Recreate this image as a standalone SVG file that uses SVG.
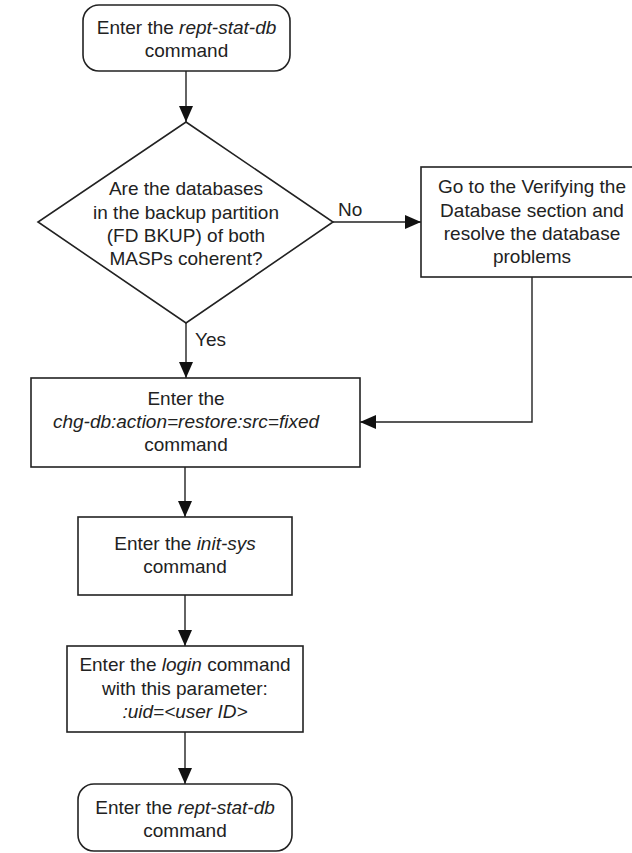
<svg xmlns="http://www.w3.org/2000/svg" width="632" height="853" viewBox="0 0 632 853">
  <defs>
    <style>
      .shape { fill: #ffffff; stroke: #222222; stroke-width: 1.6; }
      .link { fill: none; stroke: #222222; stroke-width: 1.4; marker-end: url(#arrow); }
      text { font-family: "Liberation Sans", Arial, sans-serif; font-size: 19px; fill: #222222; text-anchor: middle; }
      .it { font-style: italic; }
      .lbl { text-anchor: start; }
    </style>
    <marker id="arrow" markerUnits="userSpaceOnUse" markerWidth="16" markerHeight="14" refX="16" refY="7" orient="auto">
      <path d="M0,0 L16,7 L0,14 z" fill="#111111"/>
    </marker>
  </defs>

  <rect x="0" y="0" width="632" height="853" fill="#ffffff"/>

  <!-- connectors -->
  <g id="connectors">
    <line class="link" x1="186" y1="71" x2="186" y2="122"/>
    <line class="link" x1="333" y1="222" x2="421" y2="222"/>
    <line class="link" x1="186" y1="323" x2="186" y2="378"/>
    <polyline class="link" points="532,277 532,422 360,422"/>
    <line class="link" x1="185" y1="467" x2="185" y2="517"/>
    <line class="link" x1="185" y1="595" x2="185" y2="646"/>
    <line class="link" x1="185" y1="732" x2="185" y2="784"/>
    <text class="lbl" x="338" y="216">No</text>
    <text class="lbl" x="195" y="346">Yes</text>
  </g>

  <!-- start terminator -->
  <g id="start">
    <rect class="shape" x="83" y="5" width="207" height="66" rx="16" ry="16"/>
    <text x="186.5" y="34">Enter the <tspan class="it">rept-stat-db</tspan></text>
    <text x="186.5" y="57">command</text>
  </g>

  <!-- decision -->
  <g id="decision">
    <polygon class="shape" points="186,122 333,222 186,323 38,222"/>
    <text x="186" y="195">Are the databases</text>
    <text x="186" y="218.5">in the backup partition</text>
    <text x="186" y="242">(FD BKUP) of both</text>
    <text x="186" y="265">MASPs coherent?</text>
  </g>

  <!-- verify database -->
  <g id="verify">
    <rect class="shape" x="421" y="167" width="222" height="110"/>
    <text x="532" y="193">Go to the Verifying the</text>
    <text x="532" y="216.5">Database section and</text>
    <text x="532" y="240">resolve the database</text>
    <text x="532" y="263">problems</text>
  </g>

  <!-- restore -->
  <g id="restore">
    <rect class="shape" x="31" y="378" width="329" height="89"/>
    <text x="186" y="405">Enter the</text>
    <text x="186" y="428" class="it">chg-db:action=restore:src=fixed</text>
    <text x="186" y="451">command</text>
  </g>

  <!-- init-sys -->
  <g id="initsys">
    <rect class="shape" x="78" y="517" width="214" height="78"/>
    <text x="185" y="550">Enter the <tspan class="it">init-sys</tspan></text>
    <text x="185" y="573">command</text>
  </g>

  <!-- login -->
  <g id="login">
    <rect class="shape" x="67" y="646" width="236" height="86"/>
    <text x="185" y="671">Enter the <tspan class="it">login</tspan> command</text>
    <text x="185" y="694.5">with this parameter:</text>
    <text x="185" y="718" class="it">:uid=&lt;user ID&gt;</text>
  </g>

  <!-- end terminator -->
  <g id="end">
    <rect class="shape" x="78" y="784" width="214" height="67" rx="16" ry="16"/>
    <text x="185" y="814">Enter the <tspan class="it">rept-stat-db</tspan></text>
    <text x="185" y="837">command</text>
  </g>
</svg>
